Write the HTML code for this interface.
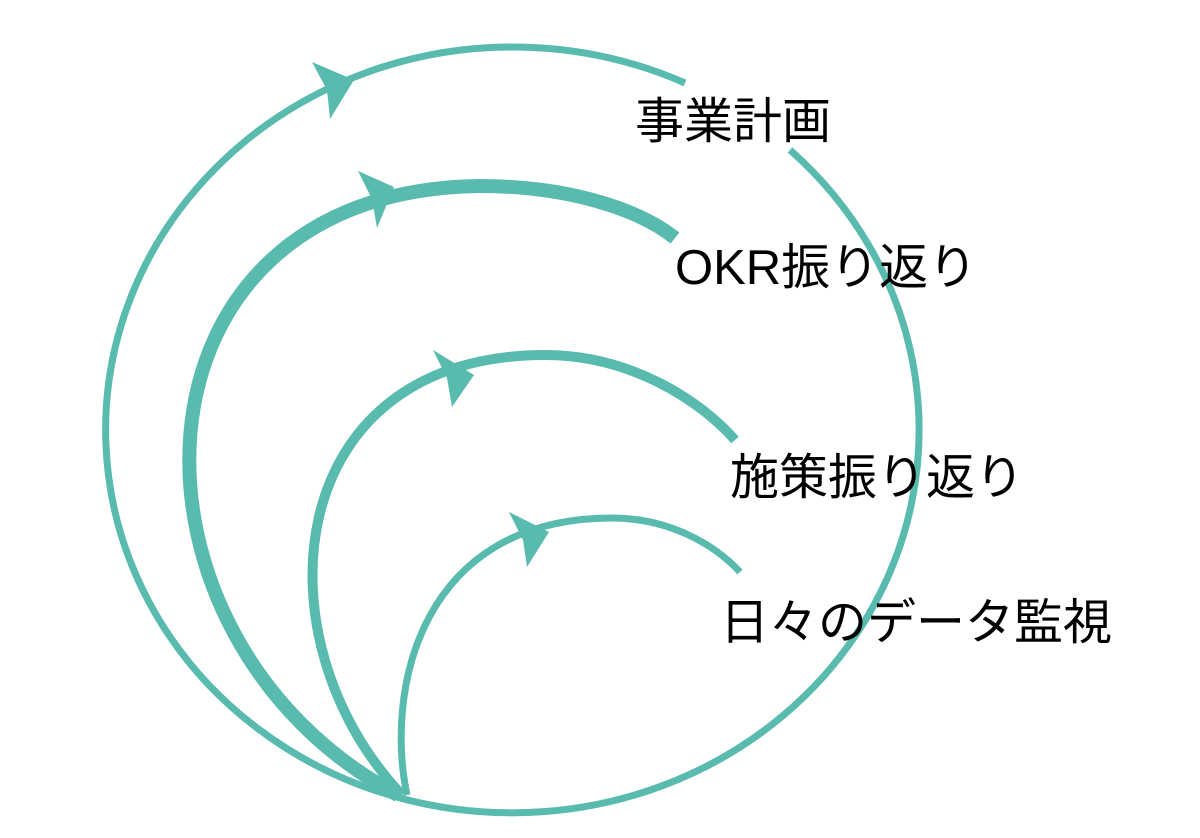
<!DOCTYPE html>
<html><head><meta charset="utf-8"><style>
html,body{margin:0;padding:0;background:#fff;}
svg{display:block;}
text{font-family:"Liberation Sans","Noto Sans CJK JP",sans-serif;font-size:49px;fill:#000;}
</style></head><body>
<svg width="1200" height="838" viewBox="0 0 1200 838" xmlns="http://www.w3.org/2000/svg">
<g fill="none" stroke="#58bbae" stroke-linecap="butt">
<path d="M400,798 A407,383 0 1 1 685,83" stroke-width="7"/>
<path d="M790,150 A407,383 0 0 1 400,798" stroke-width="7"/>
<path d="M398,795 C105,640 110,190 480,186 C570,186 640,210 675,238" stroke-width="14"/>
<path d="M402,795 C255,640 280,355 545,355 C630,355 700,400 735,440" stroke-width="10"/>
<path d="M407,795 C385,690 420,518 612,518 C670,518 715,545 740,572" stroke-width="7"/>
</g>
<g fill="#58bbae">
<polygon points="312,62 354,80 330,119 327,90"/>
<polygon points="358,171 394,187 377,228 372,199"/>
<polygon points="433,350 474,375 452,407 447,378"/>
<polygon points="509,512 549,532 527,567 523,540"/>
</g>
<text x="635" y="138">事業計画</text>
<text x="675" y="284">OKR振り返り</text>
<text x="730" y="494">施策振り返り</text>
<text x="720" y="639">日々のデータ監視</text>
</svg>
</body></html>
